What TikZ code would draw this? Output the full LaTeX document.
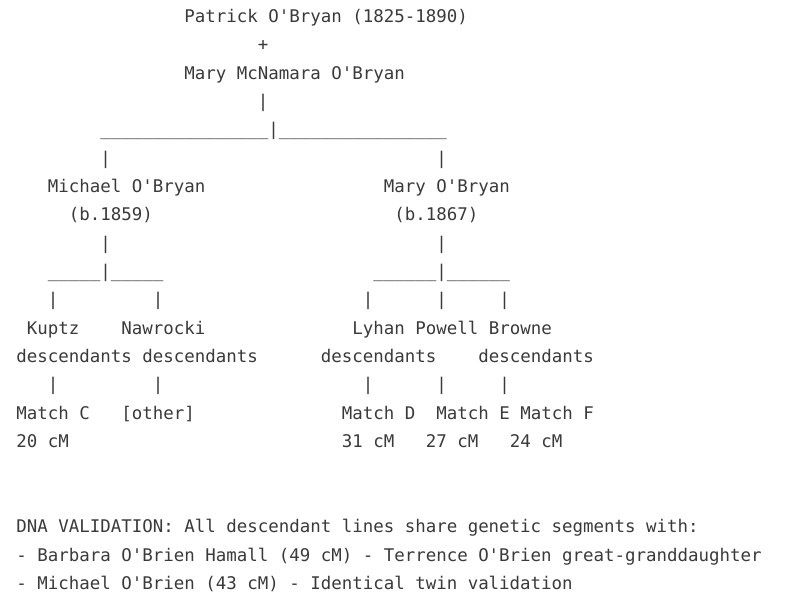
\documentclass[tikz,border=0pt]{standalone}
\usepackage{fontspec}
\setmonofont{DejaVu Sans Mono}
\definecolor{ink}{RGB}{58,58,58}
\tikzset{
  t/.style={anchor=base west, inner sep=0pt, outer sep=0pt, text=ink,
    font=\ttfamily\fontsize{17.44pt}{20pt}\selectfont}
}
\begin{document}
\begin{tikzpicture}[x=10.5pt,y=28.35pt]
\useasboundingbox[fill=white] (-16.3pt,22.4pt) rectangle (783.7pt,-576.6pt);
% couple
\node[t] (patrick) at (16,0) {Patrick O'Bryan (1825-1890)};
\node[t] (plus) at (23,-1) {+};
\node[t] (mary) at (16,-2) {Mary McNamara O'Bryan};
\node[t] (v0) at (23,-3) {|};
\node[t] (h0l) at (8,-4) {\_\_\_\_\_\_\_\_\_\_\_\_\_\_\_\_};
\node[t] (h0m) at (24,-4) {|};
\node[t] (h0r) at (25,-4) {\_\_\_\_\_\_\_\_\_\_\_\_\_\_\_\_};
\node[t] (v1l) at (8,-5) {|};
\node[t] (v1r) at (40,-5) {|};
% children
\node[t] (michael) at (3,-6) {Michael O'Bryan};
\node[t] (maryob) at (35,-6) {Mary O'Bryan};
\node[t] (mb) at (5,-7) {(b.1859)};
\node[t] (myb) at (36,-7) {(b.1867)};
\node[t] (v2l) at (8,-8) {|};
\node[t] (v2r) at (40,-8) {|};
\node[t] (h1a) at (3,-9) {\_\_\_\_\_};
\node[t] (h1b) at (8,-9) {|};
\node[t] (h1c) at (9,-9) {\_\_\_\_\_};
\node[t] (h2a) at (34,-9) {\_\_\_\_\_\_};
\node[t] (h2b) at (40,-9) {|};
\node[t] (h2c) at (41,-9) {\_\_\_\_\_\_};
\node[t] (v3a) at (3,-10) {|};
\node[t] (v3b) at (13,-10) {|};
\node[t] (v3c) at (33,-10) {|};
\node[t] (v3d) at (40,-10) {|};
\node[t] (v3e) at (46,-10) {|};
% descendant lines
\node[t] (kuptz) at (1,-11) {Kuptz};
\node[t] (nawrocki) at (10,-11) {Nawrocki};
\node[t] (lpb) at (32,-11) {Lyhan Powell Browne};
\node[t] (d1) at (0,-12) {descendants descendants};
\node[t] (d2) at (29,-12) {descendants};
\node[t] (d3) at (44,-12) {descendants};
\node[t] (v4a) at (3,-13) {|};
\node[t] (v4b) at (13,-13) {|};
\node[t] (v4c) at (33,-13) {|};
\node[t] (v4d) at (40,-13) {|};
\node[t] (v4e) at (46,-13) {|};
% matches
\node[t] (mc) at (0,-14) {Match C};
\node[t] (other) at (10,-14) {[other]};
\node[t] (md) at (31,-14) {Match D};
\node[t] (me) at (40,-14) {Match E};
\node[t] (mf) at (48,-14) {Match F};
\node[t] (cc) at (0,-15) {20 cM};
\node[t] (cd) at (31,-15) {31 cM};
\node[t] (ce) at (39,-15) {27 cM};
\node[t] (cf) at (47,-15) {24 cM};
% validation
\node[t] (dna) at (0,-18) {DNA VALIDATION: All descendant lines share genetic segments with:};
\node[t] (barbara) at (0,-19) {- Barbara O'Brien Hamall (49 cM) - Terrence O'Brien great-granddaughter};
\node[t] (mob) at (0,-20) {- Michael O'Brien (43 cM) - Identical twin validation};
\end{tikzpicture}
\end{document}
